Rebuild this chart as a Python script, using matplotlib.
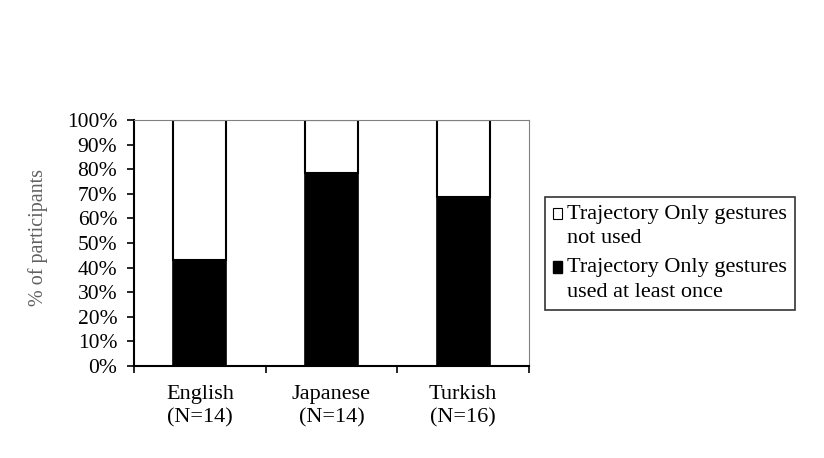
import numpy as np
import matplotlib
matplotlib.use("Agg")
import matplotlib.pyplot as plt
from matplotlib.patches import Patch, Rectangle
from matplotlib.legend_handler import HandlerPatch

plt.rcParams['font.family'] = ['Liberation Serif', 'DejaVu Serif']

categories = ["English\n(N=14)", "Japanese\n(N=14)", "Turkish\n(N=16)"]
used_pct = [42.9, 78.6, 68.75]          # trajectory only gestures used at least once
not_used_pct = [100 - v for v in used_pct]
yticks = list(range(0, 101, 10))

fig = plt.figure(figsize=(8.24, 4.58), dpi=100)
ax = fig.add_axes([0.1626, 0.2009, 0.4794, 0.537])

x = np.arange(len(categories))
w = 0.4
ax.bar(x, used_pct, width=w, color='black', edgecolor='black', linewidth=1.2)
ax.bar(x, not_used_pct, bottom=used_pct, width=w, color='white', edgecolor='black', linewidth=1.5)

ax.set_xlim(-0.5, len(categories) - 0.5)
ax.set_ylim(0, 100)
ax.set_yticks(yticks)
ax.set_yticklabels([f"{t}%" for t in yticks], fontsize=15.5)
ax.set_xticks(x)
ax.set_xticklabels(categories, fontsize=16, linespacing=1.3)
ax.tick_params(axis='x', length=0, pad=14)
ax.set_xticks(np.arange(-0.5, len(categories), 1), minor=True)
ax.tick_params(axis='x', which='minor', direction='out', length=5, width=1.2)
ax.tick_params(axis='y', direction='out', length=5, width=1.2, pad=7)

ax.spines['left'].set_linewidth(1.5)
ax.spines['bottom'].set_linewidth(1.5)
ax.spines['top'].set_color('#808080')
ax.spines['right'].set_color('#808080')

fig.text(38 / 824, 1 - 238 / 458, "% of participants", rotation=90, fontsize=14.5,
         color='#606060', ha='center', va='center')


# legend squares sit on the first line of each two-line label
def top_square(legend, orig_handle, xdescent, ydescent, width, height, fontsize):
    return Rectangle((-xdescent, -ydescent + 0.55 * fontsize), width, height)


handles = [Patch(facecolor='white', edgecolor='black', linewidth=0.8),
           Patch(facecolor='black', edgecolor='black')]
labels = ["Trajectory Only gestures\nnot used", "Trajectory Only gestures\nused at least once"]
leg = fig.legend(handles, labels, loc='upper left', bbox_to_anchor=(545 / 824, 1 - 197 / 458),
                 fontsize=16, frameon=True, fancybox=False, edgecolor='black',
                 handlelength=0.4, handleheight=0.4, handletextpad=0.25,
                 borderpad=0.35, labelspacing=0.45, borderaxespad=0,
                 handler_map={Patch: HandlerPatch(patch_func=top_square)})
leg.get_frame().set_linewidth(1.2)
for t in leg.get_texts():
    t.set_linespacing(1.4)

fig.savefig("out.png", dpi=100)
